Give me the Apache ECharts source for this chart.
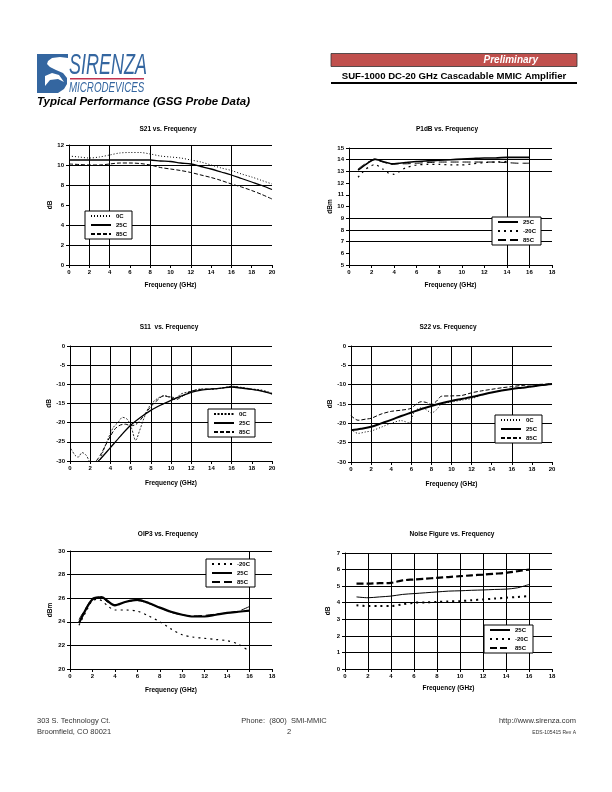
<!DOCTYPE html>
<html><head><meta charset="utf-8">
<script src="https://cdn.jsdelivr.net/npm/echarts@6/dist/echarts.min.js"></script>
<style>html,body{margin:0;padding:0;background:#fff}#c{width:612px;height:792px}</style>
</head><body><div id="c"></div>
<script>
// ---------------- DATA ----------------
const s21Freq = [0,1,2,3,4,5,6,7,8,9,10,11,12,13,14,15,16,17,18,19,20];
const s21_0C  = [10.9,10.8,10.7,10.8,11.0,11.2,11.25,11.25,11.1,10.9,10.8,10.7,10.5,10.3,10.0,9.7,9.45,9.1,8.8,8.45,8.1];
const s21_25C = [10.5,10.5,10.5,10.5,10.5,10.5,10.5,10.5,10.5,10.4,10.35,10.2,10.1,9.85,9.6,9.3,9.0,8.65,8.3,7.95,7.55];
const s21_85C = [10.1,10.05,10.0,10.0,10.1,10.2,10.2,10.15,10.0,9.75,9.6,9.45,9.25,9.0,8.75,8.45,8.1,7.8,7.45,7.05,6.6];

const p1Freq     = [0.8,1.5,2.3,3,3.8,4.5,5,6,7,8,9,10,11,12,13,14,15,16];
const p1_25C     = [13.1,13.6,14.05,13.85,13.65,13.7,13.75,13.85,13.9,13.95,14.0,14.05,14.1,14.15,14.15,14.2,14.2,14.2];
const p1FreqM20  = [0.8,1.5,2.3,3,3.5,4,4.5,5,6,7,8,9,10,11,12,13,14];
const p1_m20C    = [12.5,13.2,13.6,13.2,12.85,12.75,13.0,13.3,13.55,13.6,13.6,13.55,13.55,13.65,13.75,13.8,13.85];
const p1_85C     = [13.2,13.7,14.0,13.8,13.6,13.65,13.65,13.7,13.75,13.8,13.8,13.8,13.8,13.8,13.8,13.75,13.7,13.7];

const s11Freq0C  = [0.1,0.5,0.8,1.2,1.6,1.9,2.5,3.2,3.8,4.3,4.8,5.2,5.7,6.1,6.5,6.9,7.3,7.8,8.5,9.3,10,10.5,11,12,13,14,15,16,17,18,19,20];
const s11_0C     = [-26.8,-28.5,-29,-27.8,-28.5,-30,-33,-28,-24,-21.2,-19.8,-18.6,-19.2,-21.5,-24.6,-22,-19,-16,-14,-13,-13.3,-13.5,-12.5,-11.8,-11.2,-11.3,-11,-10.5,-10.8,-11.2,-11.5,-12.3];
const s11Freq25C = [2.8,3,4,5,6,7,8,9,10,11,12,13,14,15,16,17,18,19,20];
const s11_25C    = [-30,-29.5,-26.5,-23.5,-20.7,-18.6,-16.8,-15.4,-14.2,-13.1,-12.1,-11.5,-11.2,-11.0,-10.7,-11.0,-11.3,-11.8,-12.5];
const s11Freq85C = [2.6,3,3.5,4,4.5,5,5.5,6,6.5,7,7.5,8,8.5,9.3,10,10.5,11,12,13,14,15,16,17,18,19,20];
const s11_85C    = [-30,-28.5,-26,-23.5,-21.5,-20.6,-20.4,-20.8,-20.5,-19.2,-17.5,-15.8,-14.5,-13,-13.5,-14,-13.3,-11.8,-11.3,-11.2,-11.0,-10.6,-10.9,-11.3,-11.7,-12.5];

const s22Freq0C  = [0,0.7,1.5,2,3,4,5,5.8,6.3,7,7.5,8,8.5,9,10,11,12,13,14,15,16,17,18,19,20];
const s22_0C     = [-21.5,-22.6,-22.2,-22,-21,-20,-19.3,-19.9,-17,-16,-16.5,-17.3,-16.5,-15,-14.5,-14,-13.6,-12.7,-12,-11.5,-11.1,-10.8,-10.5,-10.1,-9.8];
const s22Freq25C = [0,1,2,3,4,5,6,7,8,9,10,11,12,13,14,15,16,17,18,19,20];
const s22_25C    = [-21.8,-21.4,-20.9,-20,-19.1,-18.1,-17.2,-16.3,-15.5,-14.8,-14.2,-13.7,-13.2,-12.6,-12.0,-11.5,-11.1,-10.8,-10.5,-10.1,-9.8];
const s22Freq85C = [0,0.7,1.5,2,3,4,5,6,6.5,7,7.5,8,8.5,9,10,11,12,13,14,15,16,17,18,19,20];
const s22_85C    = [-18,-19.2,-18.9,-18.7,-17.6,-16.9,-16.6,-16.1,-15,-14.4,-14.6,-15.1,-14.3,-13,-12.9,-12.8,-12.1,-11.6,-11.2,-10.8,-10.5,-10.2,-10,-9.9,-9.8];

const ipFreq   = [0.8,1.5,2,2.5,2.8,3.3,4,5,6,7,8,9,10,11,12,13,14,15,16];
const ip_m20C  = [23.7,25.0,25.8,25.9,25.8,25.4,25.0,25.0,24.9,24.5,24.0,23.4,22.9,22.7,22.6,22.5,22.4,22.1,21.5];
const ip_25C   = [23.9,25.2,25.9,26.05,26.1,25.8,25.4,25.7,25.85,25.6,25.2,24.85,24.6,24.45,24.45,24.6,24.75,24.85,24.95];
const ip_85C   = [24.2,25.3,26.0,26.1,26.1,25.7,25.45,25.7,25.8,25.55,25.2,24.8,24.6,24.5,24.55,24.65,24.75,24.9,25.3];

const nfFreq   = [1,2,3,4,5,6,7,8,9,10,11,12,13,14,15,16];
const nf_25C   = [4.35,4.3,4.35,4.4,4.5,4.55,4.6,4.65,4.7,4.72,4.75,4.77,4.8,4.82,4.9,5.1];
const nf_m20C  = [3.85,3.8,3.8,3.8,3.9,4.0,4.02,4.05,4.08,4.1,4.15,4.2,4.25,4.3,4.35,4.4];
const nf_85C   = [5.15,5.15,5.18,5.2,5.35,5.4,5.45,5.5,5.55,5.6,5.65,5.7,5.75,5.8,5.9,6.0];

const chartTitles = ['S21 vs. Frequency','P1dB vs. Frequency','S11  vs. Frequency','S22 vs. Frequency','OIP3 vs. Frequency','Noise Figure vs. Frequency'];
const xAxisName = 'Frequency (GHz)';
const yAxisNames = ['dB','dBm','dB','dB','dBm','dB'];
const xRanges = [[0,20,2],[0,18,2],[0,20,2],[0,20,2],[0,18,2],[0,18,2]];
const yRanges = [[0,12,2],[5,15,1],[-30,0,5],[-30,0,5],[20,30,2],[0,7,1]];
const xGridVals = [[2,4,8,12,16],[14,16],[2,4,6,8,10,12,16],[2,6,8,10,12,16],[16],[2,4,6,8,10,12,14,16]];
const yGridVals = [[2,4,8,10,12],[7,8,9,13,14,15],[-25,-20,-15,-10,-5,0],[-25,-20,-15,-10,-5,0],[22,24,26,28,30],[1,2,3,4,5,6,7]];

// ---------------- LAYOUT ----------------
const FONT = 'Liberation Sans, Arial, Helvetica, sans-serif';
const grids = [
  {left:69, top:145, width:203, height:120},
  {left:349, top:148, width:203, height:117},
  {left:70, top:346, width:202, height:115},
  {left:351, top:346, width:201, height:116},
  {left:70, top:551, width:202, height:118},
  {left:345, top:553, width:207, height:116}
];
const titlePos = [[168,129],[447,129],[169,327],[448,327],[168,534],[452,534]];
const xNameGap = [17,17,19,19,18,16];
const yNameGap = [15,15,16,17,16,13];
const legendPos = [[85,211],[492,217],[208,409],[495,415],[206,559],[484,625]];

function gridColors(range, vals){
  const out=[];
  for(let v=range[0]; v<=range[1]+1e-9; v+=range[2]){
    out.push(vals.some(g=>Math.abs(g-v)<1e-6) ? '#000' : 'rgba(0,0,0,0)');
  }
  return out;
}
function pairs(xs, ys){ return xs.map((x,i)=>[x,ys[i]]); }

const labelStyle = {fontFamily:FONT, fontSize:6, fontWeight:'bold', color:'#000'};

const xAxes=[], yAxes=[];
for(let i=0;i<6;i++){
  xAxes.push({
    type:'value', gridIndex:i, min:xRanges[i][0], max:xRanges[i][1], interval:xRanges[i][2],
    name:xAxisName, nameLocation:'middle', nameGap:xNameGap[i],
    nameTextStyle:{fontFamily:FONT,fontSize:6.5,fontWeight:'bold',color:'#000'},
    axisLine:{show:true,onZero:false,lineStyle:{color:'#000',width:1}},
    axisTick:{show:true,length:3,lineStyle:{color:'#000'}},
    axisLabel:Object.assign({margin:4},labelStyle),
    splitLine:{show:true,lineStyle:{color:gridColors(xRanges[i],xGridVals[i]),width:1}}
  });
  yAxes.push({
    type:'value', gridIndex:i, min:yRanges[i][0], max:yRanges[i][1], interval:yRanges[i][2],
    name:yAxisNames[i], nameLocation:'middle', nameGap:yNameGap[i], nameRotate:90,
    nameTextStyle:{fontFamily:FONT,fontSize:6.5,fontWeight:'bold',color:'#000'},
    axisLine:{show:true,onZero:false,lineStyle:{color:'#000',width:1}},
    axisTick:{show:true,length:3,lineStyle:{color:'#000'}},
    axisLabel:Object.assign({margin:5},labelStyle),
    splitLine:{show:true,lineStyle:{color:gridColors(yRanges[i],yGridVals[i]),width:1}}
  });
}

function ser(idx, name, data, ls, smooth){
  return {type:'line', name:idx+'|'+name, xAxisIndex:idx, yAxisIndex:idx, data:data,
    symbol:'none', showSymbol:false, smooth:smooth===undefined?0.3:smooth, clip:true,
    lineStyle:Object.assign({color:'#000',width:1},ls), itemStyle:{color:'#000'}, silent:true, animation:false};
}
const DOT={type:[1,2],width:1};
const DOT2={type:[2,4],width:1.2};
const DASH={type:[4,2],width:1};
const LDASH={type:[8,4],width:1};
const SOLID={type:'solid',width:1};
const THICK={type:'solid',width:2};

const series=[
  ser(0,'0C',pairs(s21Freq,s21_0C),DOT),
  ser(0,'25C',pairs(s21Freq,s21_25C),{type:'solid',width:1.3}),
  ser(0,'85C',pairs(s21Freq,s21_85C),DASH),
  ser(1,'25C',pairs(p1Freq,p1_25C),{type:'solid',width:1.6},0.2),
  ser(1,'-20C',pairs(p1FreqM20,p1_m20C),DOT2,0.2),
  ser(1,'85C',pairs(p1Freq,p1_85C),LDASH,0.2),
  ser(2,'0C',pairs(s11Freq0C,s11_0C),{type:[2,1.5],width:0.8},0.3),
  ser(2,'25C',pairs(s11Freq25C,s11_25C),{type:'solid',width:1.3},0.3),
  ser(2,'85C',pairs(s11Freq85C,s11_85C),DASH,0.3),
  ser(3,'0C',pairs(s22Freq0C,s22_0C),DOT,0.3),
  ser(3,'25C',pairs(s22Freq25C,s22_25C),THICK,0.3),
  ser(3,'85C',pairs(s22Freq85C,s22_85C),DASH,0.3),
  ser(4,'-20C',pairs(ipFreq,ip_m20C),DOT2,0.3),
  ser(4,'25C',pairs(ipFreq,ip_25C),{type:'solid',width:2.2},0.3),
  ser(4,'85C',pairs(ipFreq,ip_85C),LDASH,0.3),
  ser(5,'25C',pairs(nfFreq,nf_25C),SOLID,0.3),
  ser(5,'-20C',pairs(nfFreq,nf_m20C),{type:[2,4],width:2},0.3),
  ser(5,'85C',pairs(nfFreq,nf_85C),{type:[7,3],width:2.2},0.3)
];
const legendOrder=[['0C','25C','85C'],['25C','-20C','85C'],['0C','25C','85C'],['0C','25C','85C'],['-20C','25C','85C'],['25C','-20C','85C']];
const legends = legendOrder.map((names,i)=>({
  left:legendPos[i][0], top:legendPos[i][1], orient:'vertical',
  data:names.map(n=>({name:i+'|'+n})),
  formatter:n=>n.split('|')[1],
  itemWidth:20, itemHeight:7, itemGap:3, padding:[2,5,2,5],
  itemStyle:{opacity:0},
  backgroundColor:'#fff', borderColor:'#000', borderWidth:1,
  textStyle:{fontFamily:FONT,fontSize:6,fontWeight:'bold',color:'#000'},
  selectedMode:false, inactiveColor:'#000'
}));

const graphics=[];
chartTitles.forEach((t,i)=>graphics.push({type:'text',x:titlePos[i][0],y:titlePos[i][1],
  style:{text:t,fontFamily:FONT,fontSize:6.5,fontWeight:'bold',fill:'#000',align:'center',verticalAlign:'middle'}}));
const BLUE='#3466a0';
graphics.push(
  {type:'polygon',shape:{points:[[37,54],[68,54],[68,58],[60,57],[52,58],[48,61],[47,64],[50,67],[56,70],[63,73],[67,78],[67,84],[64,89],[58,93],[37,93]]},style:{fill:BLUE}},
  {type:'polygon',shape:{points:[[50,62],[56,60],[63,61],[68,64],[66,66],[60,64],[54,64]]},style:{fill:'#fff'}},
  {type:'polygon',shape:{points:[[45,76],[52,73],[59,75],[64,82],[58,79],[50,80],[45,86]]},style:{fill:'#fff'}},
  {type:'text',x:69,y:66,scaleX:0.6,scaleY:1,style:{text:'SIRENZA',fontFamily:FONT,fontSize:30,fill:BLUE,verticalAlign:'middle',fontStyle:'italic'}},
  {type:'rect',shape:{x:70,y:78,width:74,height:1.5},style:{fill:'#c2324f'}},
  {type:'text',x:69,y:87.5,scaleX:0.65,scaleY:1,style:{text:'MICRODEVICES',fontFamily:FONT,fontSize:15,fill:BLUE,verticalAlign:'middle',fontStyle:'italic'}},
  {type:'text',x:37,y:102,style:{text:'Typical Performance (GSG Probe Data)',fontFamily:FONT,fontSize:11.5,fontWeight:'bold',fontStyle:'italic',fill:'#000',verticalAlign:'middle'}},
  {type:'rect',shape:{x:331,y:53.5,width:246,height:13},style:{fill:'#c0504d',stroke:'#333',lineWidth:0.8}},
  {type:'text',x:538,y:60,style:{text:'Preliminary',fontFamily:FONT,fontSize:10,fontWeight:'bold',fontStyle:'italic',fill:'#fff',align:'right',verticalAlign:'middle'}},
  {type:'text',x:454,y:76,style:{text:'SUF-1000 DC-20 GHz Cascadable MMIC Amplifier',fontFamily:FONT,fontSize:9.6,fontWeight:'bold',fill:'#000',align:'center',verticalAlign:'middle'}},
  {type:'rect',shape:{x:331,y:82,width:246,height:2},style:{fill:'#000'}},
  {type:'text',x:37,y:721,style:{text:'303 S. Technology Ct.',fontFamily:FONT,fontSize:7.5,fill:'#333',verticalAlign:'middle'}},
  {type:'text',x:37,y:732,style:{text:'Broomfield, CO 80021',fontFamily:FONT,fontSize:7.5,fill:'#333',verticalAlign:'middle'}},
  {type:'text',x:284,y:721,style:{text:'Phone:  (800)  SMI-MMIC',fontFamily:FONT,fontSize:7.5,fill:'#333',align:'center',verticalAlign:'middle'}},
  {type:'text',x:289,y:732,style:{text:'2',fontFamily:FONT,fontSize:7.5,fill:'#333',align:'center',verticalAlign:'middle'}},
  {type:'text',x:576,y:721,style:{text:'http://www.sirenza.com',fontFamily:FONT,fontSize:7.5,fill:'#333',align:'right',verticalAlign:'middle'}},
  {type:'text',x:576,y:733,style:{text:'EDS-105415 Rev A',fontFamily:FONT,fontSize:5,fill:'#333',align:'right',verticalAlign:'middle'}}
);

const chart = echarts.init(document.getElementById('c'), null, {renderer:'canvas'});
chart.setOption({
  animation:false, backgroundColor:'#fff',
  grid:grids.map(g=>Object.assign({containLabel:false},g)),
  xAxis:xAxes, yAxis:yAxes, series:series, legend:legends, graphic:graphics
});
</script></body></html>
